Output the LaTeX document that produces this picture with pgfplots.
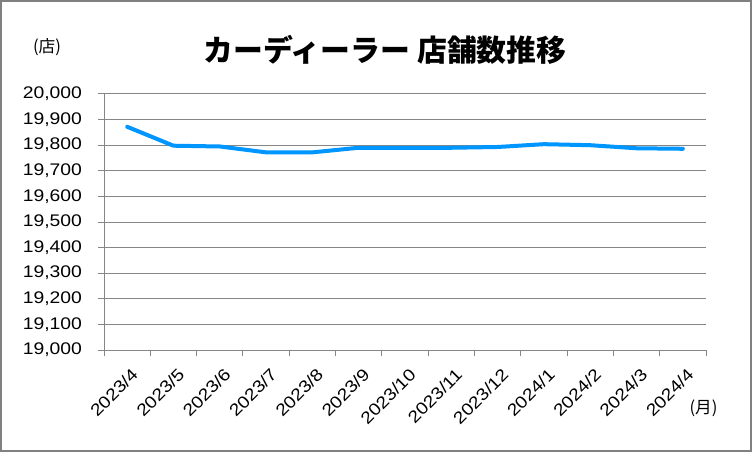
\documentclass[border=0pt]{standalone}
\usepackage{fontspec}
\usepackage{pgfplots}
\pgfplotsset{compat=1.18}
\setmainfont{Liberation Sans}
\newfontfamily\tickfont[FakeStretch=1.15]{Liberation Sans}
\newfontfamily\jp{Noto Sans CJK JP}
\definecolor{linec}{RGB}{0,150,255}
\definecolor{gridc}{RGB}{134,134,134}
\definecolor{framec}{RGB}{128,128,128}
\pgfplotstableread{
x y
0 19872
1 19798
2 19795
3 19772
4 19772
5 19790
6 19790
7 19790
8 19793
9 19804
10 19800
11 19788
12 19786
}\dealers
\begin{document}
\begin{tikzpicture}
\useasboundingbox (0,0) rectangle (564pt,-339pt);
\fill[white] (0,0) rectangle (564pt,-339pt);
\draw[framec, line width=1.5pt] (0.75pt,-0.75pt) rectangle (563.25pt,-338.25pt);
\node[font=\jp\bfseries\fontsize{22.4}{26}\selectfont] at (288.75pt,-37.5pt) {カーディーラー 店舗数推移};
\node[font=\jp\fontsize{12.5}{15}\selectfont] at (35.25pt,-35.6pt) {(店)};
\node[font=\jp\fontsize{12.5}{15}\selectfont] at (527.6pt,-306.5pt) {(月)};
\begin{axis}[
  at={(78pt,-262.5pt)}, anchor=south west,
  scale only axis, width=451.5pt, height=192pt,
  xmin=-0.5, xmax=12.5, ymin=19000, ymax=20000,
  ytick={19000,19100,...,20000},
  scaled y ticks=false,
  xtick={0,...,12},
  xticklabels={2023/4,2023/5,2023/6,2023/7,2023/8,2023/9,2023/10,2023/11,2023/12,2024/1,2024/2,2024/3,2024/4},
  minor xtick={-0.5,0.5,...,12.5},
  axis x line*=bottom, axis y line*=left,
  axis line style={gridc, line width=0.75pt, -},
  ymajorgrids, grid style={gridc, line width=0.75pt},
  tick align=outside, major tick length=4.5pt, minor tick length=4.5pt,
  major x tick style={draw=none},
  minor tick style={gridc, line width=0.75pt},
  ytick style={gridc, line width=0.75pt},
  tick label style={font=\tickfont\fontsize{12.6}{15}\selectfont, text=black},
  xticklabel style={xshift=2.5pt, yshift=1.5pt, rotate=45, anchor=north east},
  xticklabel shift=5pt,
  yticklabel style={xshift=-8.5pt, /pgf/number format/fixed, /pgf/number format/precision=0},
  /pgf/number format/1000 sep={,},
  /pgf/number format/assume math mode=true,
]
\addplot[linec, line width=3pt, line join=round, line cap=round] table[x=x, y=y] {\dealers};
\end{axis}
\end{tikzpicture}
\end{document}
